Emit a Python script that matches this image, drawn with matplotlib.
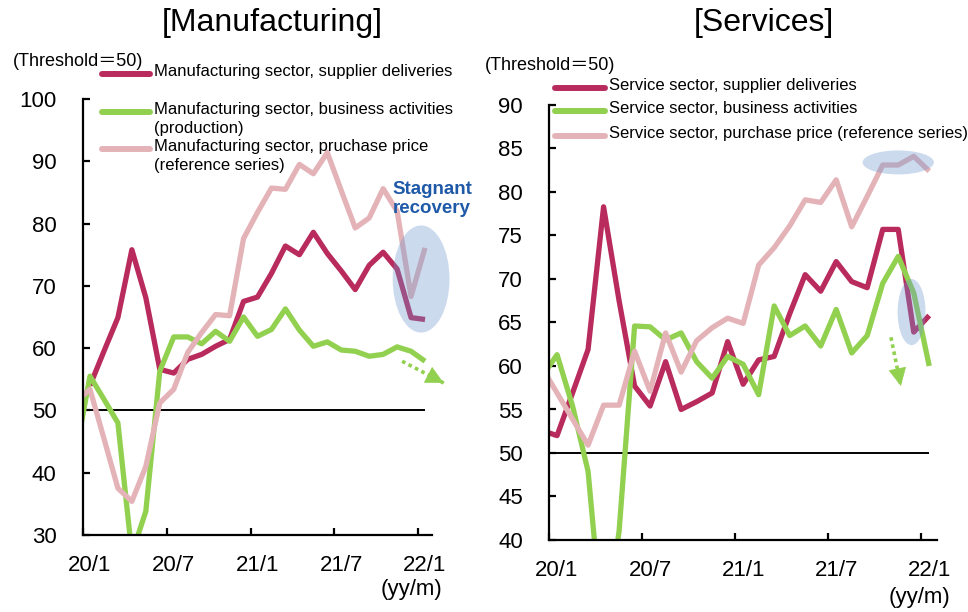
import numpy as np
import matplotlib.pyplot as plt
from matplotlib.lines import Line2D
from matplotlib.patches import Ellipse

plt.rcParams['font.family'] = ['Liberation Sans', 'Noto Sans CJK JP', 'DejaVu Sans']

W, H = 968, 612

# monthly PMI-type diffusion indices, 19/12 .. 22/1 (19/12 lies left of the axis)
months = ['19/12',
          '20/1', '20/2', '20/3', '20/4', '20/5', '20/6', '20/7', '20/8', '20/9', '20/10', '20/11', '20/12',
          '21/1', '21/2', '21/3', '21/4', '21/5', '21/6', '21/7', '21/8', '21/9', '21/10', '21/11', '21/12',
          '22/1']
tick_labels = ['20/1', '20/7', '21/1', '21/7', '22/1']

mfg_supplier = [np.nan, 54.0, 59.5, 64.9, 75.8, 68.1, 56.6, 56.0, 58.2, 59.0, 60.3, 61.4, 67.5,
                68.2, 72.0, 76.4, 75.0, 78.6, 75.2, 72.4, 69.4, 73.3, 75.4, 72.7, 64.9, 64.6]
mfg_business = [43.3, 55.5, 51.8, 48.0, 27.0, 33.8, 56.3, 61.8, 61.8, 60.7, 62.7, 61.1, 65.0,
                61.9, 63.0, 66.3, 62.9, 60.3, 61.0, 59.7, 59.5, 58.7, 59.0, 60.2, 59.5, 57.9]
mfg_price = [51.4, 53.4, 45.5, 37.5, 35.4, 41.0, 51.2, 53.4, 59.3, 62.5, 65.4, 65.2, 77.6,
             81.8, 85.7, 85.5, 89.5, 88.0, 91.4, 85.3, 79.3, 80.9, 85.6, 82.0, 68.3, 76.1]

svc_supplier = [52.6, 52.0, 56.9, 61.9, 78.3, 67.5, 57.7, 55.4, 60.5, 55.0, 55.9, 56.9, 62.8,
                57.9, 60.7, 61.1, 66.0, 70.5, 68.6, 72.0, 69.7, 69.0, 75.7, 75.7, 63.9, 65.8]
svc_business = [58.7, 61.3, 55.4, 47.9, 28.5, 41.0, 64.6, 64.5, 63.0, 63.8, 60.5, 58.6, 61.1,
                60.2, 56.7, 66.9, 63.5, 64.6, 62.3, 66.5, 61.5, 63.5, 69.5, 72.6, 68.4, 60.0]
svc_price = [59.9, 56.9, 53.9, 50.9, 55.5, 55.5, 61.7, 57.1, 63.8, 59.3, 62.9, 64.4, 65.5,
             64.9, 71.6, 73.6, 76.1, 79.1, 78.8, 81.4, 76.0, 79.5, 83.1, 83.1, 84.1, 82.4]

mfg_labels = ['Manufacturing sector, supplier deliveries',
              'Manufacturing sector, business activities\n(production)',
              'Manufacturing sector, pruchase price\n(reference series)']
svc_labels = ['Service sector, supplier deliveries',
              'Service sector, business activities',
              'Service sector, purchase price (reference series)']

RED = '#b82b5c'
GREEN = '#92d050'
PINK = '#e4b3b8'
BLUE_TEXT = '#1f5aa8'
SHADE = '#6f97cf'

x = np.arange(len(months)) - 1


def px_axes(fig, left, top, right, bottom):
    return fig.add_axes([left / W, 1 - bottom / H, (right - left) / W, (bottom - top) / H])


def style(ax, ylo, yhi, ystep):
    ax.set_xlim(-0.5, 24.5)
    ax.set_ylim(ylo, yhi)
    ax.set_yticks(np.arange(ylo, yhi + 1, ystep))
    ax.set_xticks([-0.5, 5.5, 11.5, 17.5, 23.5])
    ax.set_xticklabels([])
    ax.set_xticks([0, 6, 12, 18, 24], minor=True)
    ax.set_xticklabels(tick_labels, minor=True)
    ax.tick_params(axis='x', which='major', direction='in', length=5, width=1.6)
    ax.tick_params(axis='x', which='minor', length=0, pad=14.5, labelsize=16)
    ax.tick_params(axis='y', direction='in', length=5, width=1.6, pad=19, labelsize=16)
    for s in ['top', 'right']:
        ax.spines[s].set_visible(False)
    for s in ['left', 'bottom']:
        ax.spines[s].set_linewidth(1.6)
    ax.hlines(50, -0.5, 24, color='black', lw=1.4, zorder=1)


def draw_series(ax, series):
    for vals, c in zip(series, [RED, GREEN, PINK]):
        ax.plot(x, vals, color=c, lw=3.8, solid_joinstyle='round', solid_capstyle='butt', zorder=2)


def dotted_arrow(ax, start, end):
    ax.plot([start[0], end[0]], [start[1], end[1]], color=GREEN, lw=2.6,
            linestyle=(0, (1, 1)), clip_on=False, zorder=3)
    back = (end[0] - 0.08 * (end[0] - start[0]), end[1] - 0.08 * (end[1] - start[1]))
    ax.annotate('', xy=end, xytext=back, annotation_clip=False,
                arrowprops=dict(arrowstyle='-|>,head_length=0.6,head_width=0.3',
                                color=GREEN, lw=0.5, mutation_scale=20, shrinkA=0, shrinkB=0))


def legend_entry(fig, x0, x1, y, color, text):
    fig.add_artist(Line2D([x0 / W, x1 / W], [1 - y / H, 1 - y / H], color=color,
                          lw=4.3, solid_capstyle='round'))
    fig.text((x1 + 4) / W, 1 - (y - 10) / H, text, fontsize=12, ha='left', va='top',
             linespacing=1.32)


fig = plt.figure(figsize=(W / 100, H / 100), dpi=100)

# ---- manufacturing
ax1 = px_axes(fig, 83, 99, 432, 535)
style(ax1, 30, 100, 10)
draw_series(ax1, [mfg_supplier, mfg_business, mfg_price])
ax1.add_patch(Ellipse((23.72, 71.1), 4.07, 17.2, facecolor=SHADE, edgecolor='none',
                      alpha=0.35, zorder=4, clip_on=False))
ax1.text(21.66, 83.95, 'Stagnant\nrecovery', color=BLUE_TEXT, fontsize=13.5,
         fontweight='bold', ha='left', va='center', linespacing=1.15, zorder=5)
dotted_arrow(ax1, (22.36, 57.9), (25.34, 54.4))

# ---- services
ax2 = px_axes(fig, 549.3, 105, 937, 540)
style(ax2, 40, 90, 5)
draw_series(ax2, [svc_supplier, svc_business, svc_price])
ax2.add_patch(Ellipse((22.0, 83.4), 4.6, 2.76, facecolor=SHADE, edgecolor='none',
                      alpha=0.35, zorder=4, clip_on=False))
ax2.add_patch(Ellipse((22.86, 66.2), 1.8, 7.6, facecolor=SHADE, edgecolor='none',
                      alpha=0.35, zorder=4, clip_on=False))
dotted_arrow(ax2, (21.53, 63.3), (22.17, 57.7))

# titles, notes, legends
fig.text(272 / W, 1 - 23 / H, '[Manufacturing]', fontsize=23, ha='center', va='center')
fig.text(764 / W, 1 - 23 / H, '[Services]', fontsize=23, ha='center', va='center')
fig.text(13 / W, 1 - 62 / H, '(Threshold＝50)', fontsize=13, ha='left', va='center')
fig.text(485 / W, 1 - 65 / H, '(Threshold＝50)', fontsize=13, ha='left', va='center')
fig.text(411.5 / W, 1 - 590 / H, '(yy/m)', fontsize=16, ha='center', va='center')
fig.text(919.5 / W, 1 - 598 / H, '(yy/m)', fontsize=16, ha='center', va='center')

for y, c, t in zip([74.3, 111.7, 149.3], [RED, GREEN, PINK], mfg_labels):
    legend_entry(fig, 102, 150, y, c, t)
for y, c, t in zip([87.7, 111.0, 135.7], [RED, GREEN, PINK], svc_labels):
    legend_entry(fig, 555, 605, y, c, t)

fig.savefig('out.png', dpi=100)
